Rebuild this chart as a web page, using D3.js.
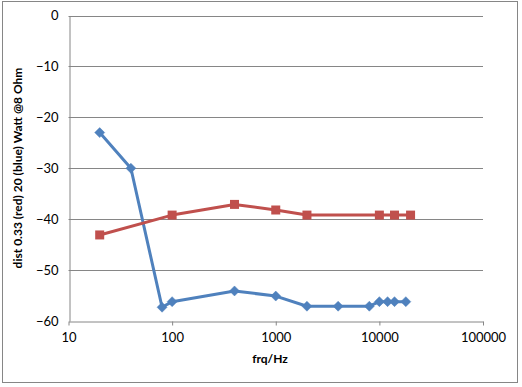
<!DOCTYPE html>
<html>
<head>
<meta charset="utf-8">
<script src="https://cdn.jsdelivr.net/npm/d3@7"></script>
<style>
body { margin: 0; background: #fff; }
text { font-family: Lato, "Open Sans", sans-serif; }
</style>
</head>
<body>
<div id="chart"></div>
<script>
var blueFreq = [20, 40, 80, 100, 400, 1000, 2000, 4000, 8000, 10000, 12000, 14000, 18000];
var blueDist = [-23, -30, -57.3, -56.2, -54.1, -55.1, -57.1, -57.1, -57.1, -56.2, -56.2, -56.2, -56.2];
var redFreq = [20, 100, 400, 1000, 2000, 10000, 14000, 20000];
var redDist = [-43.1, -39.2, -37.1, -38.2, -39.2, -39.2, -39.2, -39.2];
var xTicks = [10, 100, 1000, 10000, 100000];
var yTicks = [0, -10, -20, -30, -40, -50, -60];

var width = 522, height = 387;
var margin = {top: 15.5, right: 39, bottom: 66, left: 68.5};

var svg = d3.select("#chart").append("svg")
	.attr("width", width)
	.attr("height", height);

// chart frame
svg.append("rect")
	.attr("x", 2.5).attr("y", 1.5)
	.attr("width", 515).attr("height", 381)
	.attr("fill", "#fff")
	.attr("stroke", "#868686");

var xScale = d3.scaleLog().domain([10, 100000]).range([margin.left, width - margin.right]),
	yScale = d3.scaleLinear().domain([-60, 0]).range([height - margin.bottom, margin.top]);

// gridlines
svg.append("g").selectAll("line")
	.data(yTicks.filter(function(d) { return d > -60; }))
	.enter().append("line")
	.attr("x1", xScale(10)).attr("x2", xScale(100000))
	.attr("y1", function(d) { return Math.round(yScale(d)) + 0.5; })
	.attr("y2", function(d) { return Math.round(yScale(d)) + 0.5; })
	.attr("stroke", "#868686");

var xAxis = d3.axisBottom(xScale).tickValues(xTicks).tickFormat(d3.format("d")).tickSizeInner(4).tickSizeOuter(0),
	yAxis = d3.axisLeft(yScale).tickValues(yTicks).tickSize(0).tickPadding(11);

var gx = svg.append("g")
	.attr("transform", "translate(0," + (Math.round(yScale(-60)) + 0.5) + ")")
	.call(xAxis);
var gy = svg.append("g")
	.attr("transform", "translate(" + (Math.round(xScale(10)) + 0.5) + ",0)")
	.call(yAxis);

[gx, gy].forEach(function(g) {
	g.selectAll("path, line").attr("stroke", "#868686");
	g.selectAll("text").attr("fill", "#000").style("font-size", "13px");
});
gx.selectAll("text").attr("dy", "1.05em");

// axis titles
svg.append("text")
	.attr("x", 270).attr("y", 363)
	.attr("text-anchor", "middle")
	.style("font-size", "12px").style("font-weight", "bold")
	.text("frq/Hz");
svg.append("text")
	.attr("transform", "translate(22,168) rotate(-90)")
	.attr("text-anchor", "middle")
	.style("font-size", "12px").style("font-weight", "bold")
	.text("dist 0.33 (red) 20 (blue) Watt @8 Ohm");

var line = d3.line()
	.x(function(d) { return xScale(d[0]); })
	.y(function(d) { return yScale(d[1]); });

var blue = d3.zip(blueFreq, blueDist),
	red = d3.zip(redFreq, redDist);

svg.append("path").datum(blue)
	.attr("d", line).attr("fill", "none")
	.attr("stroke", "#4F81BD").attr("stroke-width", 3).attr("stroke-linejoin", "round");
svg.append("path").datum(red)
	.attr("d", line).attr("fill", "none")
	.attr("stroke", "#C0504D").attr("stroke-width", 3).attr("stroke-linejoin", "round");

svg.append("g").selectAll("path")
	.data(blue)
	.enter().append("path")
	.attr("transform", function(d) { return "translate(" + xScale(d[0]) + "," + yScale(d[1]) + ")"; })
	.attr("d", "M0,-5L5,0L0,5L-5,0Z")
	.attr("fill", "#4F81BD").attr("stroke", "#4F81BD").attr("stroke-width", 0.5);

svg.append("g").selectAll("rect")
	.data(red)
	.enter().append("rect")
	.attr("x", function(d) { return xScale(d[0]) - 4.5; })
	.attr("y", function(d) { return yScale(d[1]) - 4.5; })
	.attr("width", 9).attr("height", 9)
	.attr("fill", "#C0504D");
</script>
</body>
</html>
